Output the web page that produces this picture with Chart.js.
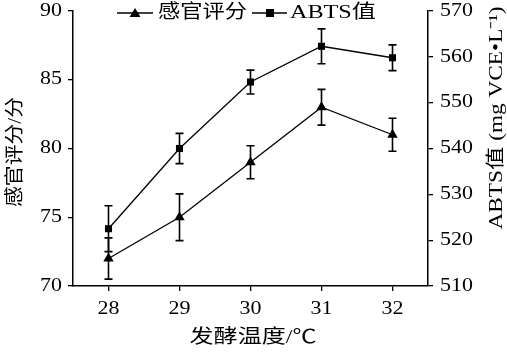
<!DOCTYPE html>
<html>
<head>
<meta charset="utf-8">
<script src="https://cdn.jsdelivr.net/npm/chart.js@4.4.1/dist/chart.umd.min.js"></script>
<style>
  html, body { margin: 0; padding: 0; background: #fff; }
  #wrap { width: 507px; height: 352px; }
</style>
</head>
<body>
<div id="wrap"><canvas id="grafico" width="507" height="352"></canvas></div>
<script>
// Datos
const temperaturas = ['28', '29', '30', '31', '32'];
const sensorial = [72, 75, 79, 83, 81];
const sensorialErr = [1.5, 1.7, 1.2, 1.3, 1.2];
const abts = [522.5, 540, 554.5, 562.3, 559.8];
const abtsErr = [5, 3.3, 2.6, 3.8, 2.8];
const ticksIzq = [70, 75, 80, 85, 90];
const ticksDer = [510, 520, 530, 540, 550, 560, 570];

const FAMILIA = '"Liberation Serif", "Noto Sans CJK SC", serif';

// texto estirado horizontalmente (la figura original está algo ancha)
function texto(ctx, str, x, y, opts) {
    ctx.save();
    ctx.font = opts.size + 'px ' + FAMILIA;
    ctx.textAlign = opts.align || 'center';
    ctx.textBaseline = 'middle';
    ctx.translate(x, y);
    if (opts.rot) ctx.rotate(opts.rot);
    let sx = opts.stretch || 1;
    if (opts.width) sx = opts.width / ctx.measureText(str).width;
    ctx.scale(sx, 1);
    ctx.fillText(str, 0, 0);
    ctx.restore();
}

// Barras de error
const barrasError = {
    id: 'barrasError',
    afterDatasetsDraw(chart) {
        const ctx = chart.ctx;
        const errores = [sensorialErr, abtsErr];
        ctx.save();
        ctx.strokeStyle = '#000';
        ctx.lineWidth = 1.6;
        chart.data.datasets.forEach(function(ds, i) {
            const meta = chart.getDatasetMeta(i);
            const escala = chart.scales[ds.yAxisID];
            meta.data.forEach(function(p, j) {
                const yArriba = escala.getPixelForValue(ds.data[j] + errores[i][j]);
                const yAbajo = escala.getPixelForValue(ds.data[j] - errores[i][j]);
                ctx.beginPath();
                ctx.moveTo(p.x, yArriba); ctx.lineTo(p.x, yAbajo);
                ctx.moveTo(p.x - 4, yArriba); ctx.lineTo(p.x + 4, yArriba);
                ctx.moveTo(p.x - 4, yAbajo); ctx.lineTo(p.x + 4, yAbajo);
                ctx.stroke();
            });
        });
        ctx.restore();
    }
};

// Etiquetas de ejes, leyenda y títulos
const textos = {
    id: 'textos',
    afterDraw(chart) {
        const ctx = chart.ctx;
        const sx = chart.scales.x, sI = chart.scales.yIzq, sD = chart.scales.yDer;
        ctx.save();
        ctx.fillStyle = '#000';
        ctx.strokeStyle = '#000';

        // etiquetas de los ticks
        ticksIzq.forEach(function(v) {
            texto(ctx, String(v), sI.right - 11, sI.getPixelForValue(v), { size: 18, align: 'right', stretch: 1.22 });
        });
        ticksDer.forEach(function(v) {
            texto(ctx, String(v), sD.left + 12, sD.getPixelForValue(v), { size: 18, align: 'left', stretch: 1.22 });
        });
        temperaturas.forEach(function(t, i) {
            texto(ctx, t, sx.getPixelForValue(i), sx.top + 23, { size: 18, stretch: 1.22 });
        });

        // leyenda
        const yL = 13;
        ctx.lineWidth = 1.3;
        ctx.beginPath(); ctx.moveTo(117, yL); ctx.lineTo(153, yL); ctx.stroke();
        ctx.beginPath(); ctx.moveTo(135, yL - 5); ctx.lineTo(140.5, yL + 4); ctx.lineTo(129.5, yL + 4); ctx.closePath(); ctx.fill();
        texto(ctx, '感官评分', 158, yL, { size: 19, align: 'left', width: 89 });
        ctx.beginPath(); ctx.moveTo(252, yL); ctx.lineTo(287, yL); ctx.stroke();
        ctx.fillRect(266, yL - 4, 8, 8);
        texto(ctx, 'ABTS值', 290, yL, { size: 19, align: 'left', width: 86 });

        // títulos de ejes
        texto(ctx, '发酵温度/℃', 253, 338, { size: 19, width: 127 });
        texto(ctx, '感官评分/分', 16, 152, { size: 19, rot: -Math.PI / 2, width: 110 });
        texto(ctx, 'ABTS值 (mg VCE•L⁻¹)', 497, 118, { size: 19, rot: -Math.PI / 2, width: 223 });

        ctx.restore();
    }
};

function initGrafico() {
    const ctx = document.getElementById('grafico').getContext('2d');
    const ejeGrid = { display: true, drawOnChartArea: false, drawTicks: true, tickLength: 5, color: '#000', lineWidth: 1.3 };
    new Chart(ctx, {
        type: 'line',
        data: {
            labels: temperaturas,
            datasets: [{
                label: '感官评分',
                data: sensorial,
                yAxisID: 'yIzq',
                borderColor: '#000',
                backgroundColor: '#000',
                borderWidth: 1.3,
                pointStyle: 'triangle',
                pointRadius: 6,
                pointBorderWidth: 0,
                tension: 0
            }, {
                label: 'ABTS值',
                data: abts,
                yAxisID: 'yDer',
                borderColor: '#000',
                backgroundColor: '#000',
                borderWidth: 1.3,
                pointStyle: 'rect',
                pointRadius: 5,
                pointBorderWidth: 0,
                tension: 0
            }]
        },
        options: {
            responsive: false,
            animation: false,
            layout: { padding: { top: 11, left: 0, right: 0, bottom: 0 } },
            plugins: {
                legend: { display: false },
                tooltip: { enabled: false }
            },
            scales: {
                x: {
                    type: 'category',
                    offset: true,
                    grid: ejeGrid,
                    border: { display: true, color: '#000', width: 1.5 },
                    ticks: { display: false },
                    afterFit: function(s) { s.height = 66; }
                },
                yIzq: {
                    position: 'left',
                    min: 70, max: 90,
                    afterBuildTicks: function(s) { s.ticks = ticksIzq.map(v => ({ value: v })); },
                    grid: ejeGrid,
                    border: { display: true, color: '#000', width: 1.5 },
                    ticks: { display: false },
                    afterFit: function(s) { s.width = 73; }
                },
                yDer: {
                    position: 'right',
                    min: 510, max: 570,
                    afterBuildTicks: function(s) { s.ticks = ticksDer.map(v => ({ value: v })); },
                    grid: ejeGrid,
                    border: { display: true, color: '#000', width: 1.5 },
                    ticks: { display: false },
                    afterFit: function(s) { s.width = 79; }
                }
            }
        },
        plugins: [barrasError, textos]
    });
}

document.addEventListener('DOMContentLoaded', initGrafico);
</script>
</body>
</html>
